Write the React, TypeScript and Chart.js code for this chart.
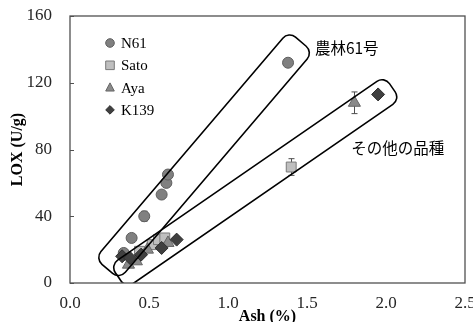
import React, { useEffect, useRef } from "react";
import { Chart, registerables } from "chart.js";

Chart.register(...registerables);

// ---------- data ----------
const seriesLabels = ["N61", "Sato", "Aya", "K139"];

const n61Ash = [0.34, 0.39, 0.47, 0.58, 0.61, 0.62, 1.38];
const n61Lox = [18, 27, 40, 53, 60, 65, 132];
const n61Err = [0, 0, 3, 0, 0, 0, 0];

const satoAsh = [0.44, 0.52, 0.56, 0.6, 1.4];
const satoLox = [19, 23, 26, 27, 69.5];
const satoErr = [0, 0, 0, 0, 5];

const ayaAsh = [0.37, 0.42, 0.49, 0.62, 1.8];
const ayaLox = [11, 13, 20, 24, 108];
const ayaErr = [0, 0, 0, 0, 6.5];

const k139Ash = [0.33, 0.38, 0.45, 0.58, 0.675, 1.95];
const k139Lox = [16, 15, 17, 21, 26, 113];
const k139Err = [0, 0, 0, 0, 0, 0];

const xTickValues = [0, 0.5, 1, 1.5, 2, 2.5];
const yTickValues = [0, 40, 80, 120, 160];
const xAxisTitle = "Ash (%)";
const yAxisTitle = "LOX (U/g)";

// group annotations (anchored in data units)
const groupNames = ["農林61号", "その他の品種"];
const groupStart = [
  [0.236, 8.5],
  [0.305, 3.7],
];
const groupEnd = [
  [1.461, 144.6],
  [2.04, 117.0],
];
const groupHalfWidth = [16, 14];
const groupLabelAt = [
  [1.55, 141],
  [1.78, 81],
];

// ---------- helpers ----------
const pts = (xs: number[], ys: number[]) => xs.map((x, i) => ({ x, y: ys[i] }));
const errs = [n61Err, satoErr, ayaErr, k139Err];

function roundedPoly(ctx: CanvasRenderingContext2D, p: number[][], r: number) {
  const n = p.length;
  const s = [(p[n - 1][0] + p[0][0]) / 2, (p[n - 1][1] + p[0][1]) / 2];
  ctx.beginPath();
  ctx.moveTo(s[0], s[1]);
  for (let i = 0; i < n; i++) {
    const c = p[i];
    const nx = p[(i + 1) % n];
    ctx.arcTo(c[0], c[1], nx[0], nx[1], r);
  }
  ctx.closePath();
}

function drawMarker(ctx: CanvasRenderingContext2D, style: string, x: number, y: number, r: number, fill: string, stroke: string) {
  ctx.beginPath();
  if (style === "circle") {
    ctx.arc(x, y, r, 0, Math.PI * 2);
  } else if (style === "rect") {
    ctx.rect(x - r, y - r, 2 * r, 2 * r);
  } else if (style === "triangle") {
    ctx.moveTo(x, y - r * 1.1);
    ctx.lineTo(x + r, y + r * 0.8);
    ctx.lineTo(x - r, y + r * 0.8);
    ctx.closePath();
  } else {
    ctx.moveTo(x, y - r);
    ctx.lineTo(x + r, y);
    ctx.lineTo(x, y + r);
    ctx.lineTo(x - r, y);
    ctx.closePath();
  }
  ctx.fillStyle = fill;
  ctx.fill();
  ctx.strokeStyle = stroke;
  ctx.lineWidth = 1;
  ctx.stroke();
}

const overlay = {
  id: "overlay",
  beforeDatasetsDraw(chart: any) {
    const { ctx, scales } = chart;
    const xs = scales.x;
    const ys = scales.y;
    ctx.save();
    ctx.strokeStyle = "#4d4d4d";
    ctx.lineWidth = 1;
    chart.data.datasets.forEach((ds: any, di: number) => {
      ds.data.forEach((p: any, i: number) => {
        const e = errs[di][i];
        if (!e) return;
        const px = Math.round(xs.getPixelForValue(p.x)) + 0.5;
        const y1 = ys.getPixelForValue(p.y + e);
        const y2 = ys.getPixelForValue(p.y - e);
        ctx.beginPath();
        ctx.moveTo(px, y1);
        ctx.lineTo(px, y2);
        ctx.moveTo(px - 3, y1);
        ctx.lineTo(px + 3, y1);
        ctx.moveTo(px - 3, y2);
        ctx.lineTo(px + 3, y2);
        ctx.stroke();
      });
    });
    ctx.restore();
  },
  afterDatasetsDraw(chart: any) {
    const { ctx, scales, chartArea } = chart;
    const xs = scales.x;
    const ys = scales.y;
    ctx.save();
    // group outlines
    ctx.save();
    ctx.beginPath();
    ctx.rect(chartArea.left, chartArea.top, chartArea.right - chartArea.left, chartArea.bottom - chartArea.top);
    ctx.clip();
    ctx.strokeStyle = "#000";
    ctx.lineWidth = 1.6;
    for (let g = 0; g < groupStart.length; g++) {
      const ax = xs.getPixelForValue(groupStart[g][0]);
      const ay = ys.getPixelForValue(groupStart[g][1]);
      const bx = xs.getPixelForValue(groupEnd[g][0]);
      const by = ys.getPixelForValue(groupEnd[g][1]);
      const len = Math.hypot(bx - ax, by - ay);
      const ux = (bx - ax) / len;
      const uy = (by - ay) / len;
      const nx = -uy;
      const ny = ux;
      const h = groupHalfWidth[g];
      const poly = [
        [ax + nx * h, ay + ny * h],
        [bx + nx * h, by + ny * h],
        [bx - nx * h, by - ny * h],
        [ax - nx * h, ay - ny * h],
      ];
      roundedPoly(ctx, poly, 9);
      ctx.stroke();
    }
    ctx.restore();

    // group labels
    ctx.fillStyle = "#000";
    ctx.font = '15.5px "Noto Sans CJK JP"';
    ctx.textAlign = "left";
    ctx.textBaseline = "middle";
    for (let g = 0; g < groupNames.length; g++) {
      ctx.fillText(groupNames[g], xs.getPixelForValue(groupLabelAt[g][0]), ys.getPixelForValue(groupLabelAt[g][1]));
    }

    // frame
    ctx.strokeStyle = "#505050";
    ctx.lineWidth = 1.3;
    ctx.strokeRect(chartArea.left, chartArea.top, chartArea.right - chartArea.left, chartArea.bottom - chartArea.top);
    // inward y ticks
    ctx.lineWidth = 1;
    ys.ticks.forEach((t: any) => {
      const y = Math.round(ys.getPixelForValue(t.value)) + 0.5;
      ctx.beginPath();
      ctx.moveTo(chartArea.left, y);
      ctx.lineTo(chartArea.left + 4, y);
      ctx.stroke();
    });

    // legend
    const lx = 110;
    const ly0 = 43;
    const step = 22.3;
    ctx.font = '15px "Liberation Serif"';
    ctx.textBaseline = "middle";
    ctx.textAlign = "left";
    chart.data.datasets.forEach((ds: any, i: number) => {
      const y = ly0 + i * step;
      drawMarker(ctx, ds.pointStyle, lx, y, 4.3, ds.backgroundColor, ds.borderColor);
      ctx.fillStyle = "#000";
      ctx.fillText(ds.label, lx + 11, y + 1);
    });
    ctx.restore();
  },
};

export default function App() {
  const ref = useRef<HTMLCanvasElement | null>(null);
  useEffect(() => {
    document.body.style.margin = "0";
    const canvas = ref.current;
    if (!canvas) return;
    const chart = new Chart(canvas, {
      type: "scatter",
      data: {
        datasets: [
          {
            label: seriesLabels[0],
            data: pts(n61Ash, n61Lox),
            pointStyle: "circle",
            backgroundColor: "#808080",
            borderColor: "#5e5e5e",
            borderWidth: 1,
            pointRadius: 5.5,
            order: 3,
          },
          {
            label: seriesLabels[1],
            data: pts(satoAsh, satoLox),
            pointStyle: "rect",
            backgroundColor: "#bfbfbf",
            borderColor: "#7a7a7a",
            borderWidth: 1,
            pointRadius: 7,
            order: 2,
          },
          {
            label: seriesLabels[2],
            data: pts(ayaAsh, ayaLox),
            pointStyle: "triangle",
            backgroundColor: "#8a8a8a",
            borderColor: "#666666",
            borderWidth: 1,
            pointRadius: 7,
            order: 1,
          },
          {
            label: seriesLabels[3],
            data: pts(k139Ash, k139Lox),
            pointStyle: "rectRot",
            backgroundColor: "#404040",
            borderColor: "#2e2e2e",
            borderWidth: 1,
            pointRadius: 6.5,
            order: 0,
          },
        ],
      },
      options: {
        animation: false,
        responsive: true,
        maintainAspectRatio: false,
        layout: { padding: { left: 0, top: 16, right: 8, bottom: 0 } },
        plugins: { legend: { display: false }, tooltip: { enabled: false } },
        scales: {
          x: {
            type: "linear",
            min: xTickValues[0],
            max: xTickValues[xTickValues.length - 1],
            grid: { display: false, drawTicks: false },
            border: { display: false },
            afterBuildTicks: (s: any) => {
              s.ticks = xTickValues.map((v) => ({ value: v }));
            },
            afterFit: (s: any) => {
              s.height = 39;
              s.paddingLeft = 0;
              s.paddingRight = 0;
            },
            ticks: {
              autoSkip: false,
              maxRotation: 0,
              padding: 10,
              color: "#262626",
              font: { family: '"Liberation Serif"', size: 17 },
              callback: (v: any) => Number(v).toFixed(1),
            },
            title: {
              display: true,
              text: xAxisTitle,
              color: "#000",
              font: { family: '"Liberation Serif"', size: 16, weight: "bold", lineHeight: 1 },
              padding: { top: 0, bottom: -3 },
            },
          },
          y: {
            type: "linear",
            min: yTickValues[0],
            max: yTickValues[yTickValues.length - 1],
            grid: { display: false, drawTicks: false },
            border: { display: false },
            afterBuildTicks: (s: any) => {
              s.ticks = yTickValues.map((v) => ({ value: v }));
            },
            afterFit: (s: any) => {
              s.width = 70;
              s.paddingTop = 0;
              s.paddingBottom = 0;
            },
            ticks: {
              autoSkip: false,
              padding: 18,
              color: "#262626",
              font: { family: '"Liberation Serif"', size: 17 },
              callback: (v: any) => String(v),
            },
            title: {
              display: true,
              text: yAxisTitle,
              color: "#000",
              font: { family: '"Liberation Serif"', size: 16, weight: "bold", lineHeight: 1 },
              padding: { top: 10, bottom: 0 },
            },
          },
        },
      },
      plugins: [overlay],
    });
    return () => chart.destroy();
  }, []);
  return (
    <div style={{ width: 473, height: 322, position: "relative" }}>
      <canvas ref={ref} />
    </div>
  );
}
